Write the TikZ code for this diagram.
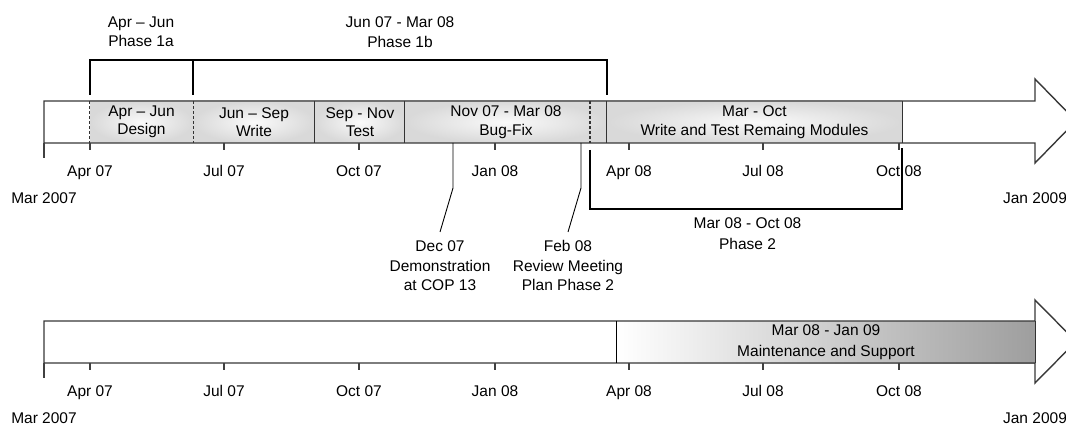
\documentclass[tikz,border=0pt]{standalone}
\usepackage{fontspec}
\setmainfont{Liberation Sans}
\begin{document}
\begin{tikzpicture}[x=1pt,y=-1pt,
  outl/.style={draw=black!78, line width=1.4pt},
  seg/.style={inner sep=0pt, minimum height=42pt, align=center, shading=radial,
    inner color=black!2, outer color=black!15, font=\fontsize{15.5}{18.5}\selectfont},
  vedge/.style={draw=black!80, line width=1.2pt},
  brk/.style={draw=black, line width=1.8pt},
  tk/.style={draw=black!75, line width=1.2pt},
  lbl/.style={align=center, inner sep=0pt, anchor=north, font=\fontsize{15.5}{19.5}\selectfont},
  call/.style={draw=black, line width=0.9pt}]
\useasboundingbox (0,0) rectangle (1066,425);

% ---------- top arrow ----------
\fill[white] (44,101) -- (1035,101) -- (1035,79) -- (1076,121) -- (1035,163) -- (1035,143) -- (44,143) -- cycle;
\node[seg, minimum width=103pt] (design) at (141.5,122) {Apr – Jun\\Design};
\node[seg, minimum width=122pt] (write) at (254,122) {Jun – Sep\\Write};
\node[seg, minimum width=90pt] (test) at (360,122) {Sep - Nov\\Test};
\node[seg, minimum width=202pt] (bugfix) at (506,122) {Nov 07 - Mar 08\\Bug-Fix};
\node[seg, minimum width=295pt] (maroct) at (754.5,122) {Mar - Oct\\Write and Test Remaing Modules};
\draw[outl] (44,101) -- (1035,101) -- (1035,79) -- (1076,121) -- (1035,163) -- (1035,143) -- (44,143) -- cycle;
\draw[vedge, dash pattern=on 3pt off 2pt] (design.north west) -- (design.south west);
\draw[vedge, dash pattern=on 3pt off 2pt] (design.north east) -- (design.south east);
\draw[vedge] (test.north west) -- (test.south west);
\draw[vedge] (bugfix.north west) -- (bugfix.south west);
\draw[vedge] (maroct.north west) -- (maroct.south west);
\draw[vedge] (maroct.north east) -- (maroct.south east);
\draw[vedge, dash pattern=on 3pt off 2pt] (590,101) -- (590,143);

% ticks top
\draw[tk] (44,143) -- (44,158);
\foreach \x/\t in {90/Apr 07,224/Jul 07,359/Oct 07,495/Jan 08,629/Apr 08,763/Jul 08,899/Oct 08}{
  \draw[tk] (\x,143) -- (\x,150);
  \node[lbl] at (\x,165.5) {\t};
}
\node[lbl] (mar07a) at (44,192.5) {Mar 2007};
\node[lbl] (jan09a) at (1035,192.5) {Jan 2009};

% phase brackets top
\coordinate (p1a) at (90,95);
\coordinate (p1b) at (193,95);
\coordinate (p1c) at (607,95);
\draw[brk] (p1a) -- (90,60) -- (607,60) -- (p1c);
\draw[brk] (p1b) -- (193,60);
\node[lbl] (ph1a) at (141,16.5) {Apr – Jun\\Phase 1a};
\node[lbl] (ph1b) at (400,16.5) {Jun 07 - Mar 08\\Phase 1b};

% phase 2 bracket
\coordinate (p2a) at (590,150);
\coordinate (p2b) at (902,148);
\draw[brk] (p2a) -- (590,209) -- (902,209) -- (p2b);
\node[lbl, font=\fontsize{15.5}{21}\selectfont] (ph2) at (747.5,217.5) {Mar 08 - Oct 08\\Phase 2};

% callouts
\node[lbl] (dec) at (440,240.5) {Dec 07\\Demonstration\\at COP 13};
\node[lbl] (feb) at (568,240.5) {Feb 08\\Review Meeting\\Plan Phase 2};
\coordinate (decA) at (453,143);
\coordinate (febA) at (581,143);
\draw[call] (decA) -- (453,188) -- ([yshift=8.5pt]dec.north);
\draw[call] (febA) -- (581,188) -- ([yshift=8.5pt]feb.north);

% ---------- bottom arrow ----------
\fill[white] (44,321) -- (1035,321) -- (1035,300) -- (1076,341.5) -- (1035,383) -- (1035,363) -- (44,363) -- cycle;
\node[inner sep=0pt, minimum width=418pt, minimum height=42pt, left color=white, right color=black!38,
  align=center, font=\fontsize{15.5}{21}\selectfont] (maint) at (826,342) {Mar 08 - Jan 09\\Maintenance and Support};
\draw[outl] (44,321) -- (1035,321) -- (1035,300) -- (1076,341.5) -- (1035,383) -- (1035,363) -- (44,363) -- cycle;
\draw[vedge, draw=black] (maint.north west) -- (maint.south west);
\draw[vedge] (maint.north east) -- (maint.south east);
\draw[tk] (44,363) -- (44,378);
\foreach \x/\t in {90/Apr 07,224/Jul 07,359/Oct 07,495/Jan 08,629/Apr 08,763/Jul 08,899/Oct 08}{
  \draw[tk] (\x,363) -- (\x,370);
  \node[lbl] at (\x,385.5) {\t};
}
\node[lbl] (mar07b) at (44,412.5) {Mar 2007};
\node[lbl] (jan09b) at (1035,412.5) {Jan 2009};
\end{tikzpicture}
\end{document}
